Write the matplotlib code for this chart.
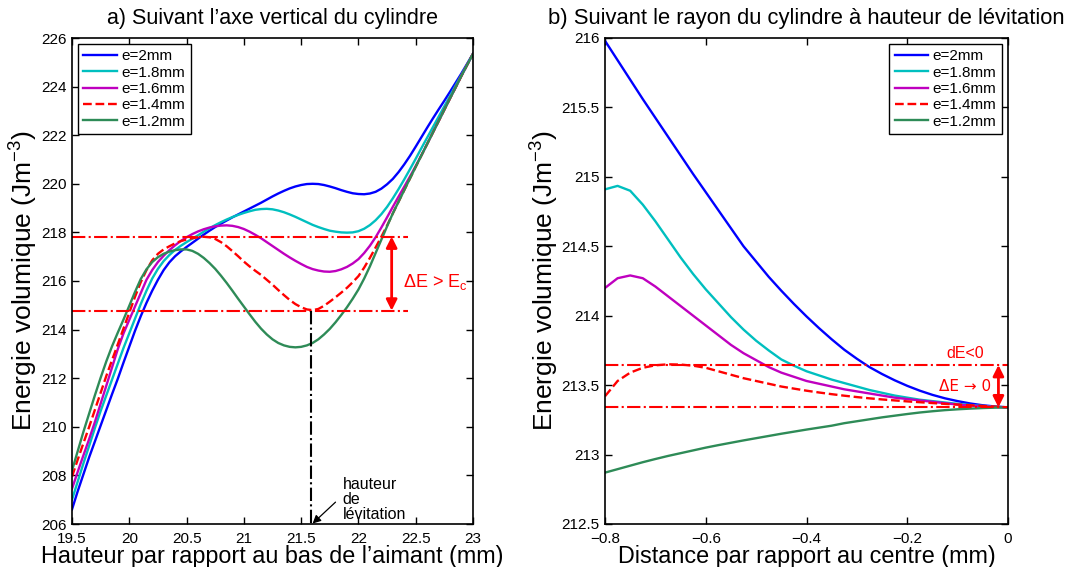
import matplotlib
matplotlib.use("Agg")
import matplotlib.pyplot as plt

plt.rcParams['font.family'] = ['Liberation Sans', 'DejaVu Sans']
plt.rcParams['mathtext.fontset'] = 'custom'
plt.rcParams['mathtext.rm'] = 'Liberation Sans'
plt.rcParams['mathtext.it'] = 'Liberation Sans:italic'
plt.rcParams['mathtext.bf'] = 'Liberation Sans:bold'

# ---------------- data: panel a (height, mm) ----------------
x_a = [19.50, 19.55, 19.60, 19.65, 19.70, 19.75, 19.80, 19.85, 19.90, 19.95,
       20.00, 20.05, 20.10, 20.15, 20.20, 20.25, 20.30, 20.35, 20.40, 20.45,
       20.50, 20.55, 20.60, 20.65, 20.70, 20.75, 20.80, 20.85, 20.90, 20.95,
       21.00, 21.05, 21.10, 21.15, 21.20, 21.25, 21.30, 21.35, 21.40, 21.45,
       21.50, 21.55, 21.60, 21.65, 21.70, 21.75, 21.80, 21.85, 21.90, 21.95,
       22.00, 22.05, 22.10, 22.15, 22.20, 22.25, 22.30, 22.35, 22.40, 22.45,
       22.50, 22.55, 22.60, 22.65, 22.70, 22.75, 22.80, 22.85, 22.90, 22.95,
       23.00]
a_e20 = [206.60, 207.35, 208.05, 208.75, 209.40, 210.05, 210.70, 211.35, 211.98, 212.65,
         213.30, 213.95, 214.55, 215.10, 215.60, 216.05, 216.45, 216.77, 217.02, 217.22,
         217.40, 217.57, 217.74, 217.91, 218.07, 218.22, 218.36, 218.49, 218.62, 218.74,
         218.86, 218.98, 219.10, 219.22, 219.35, 219.48, 219.60, 219.71, 219.81, 219.89,
         219.95, 219.99, 220.00, 219.99, 219.95, 219.89, 219.82, 219.74, 219.67, 219.61,
         219.58, 219.57, 219.60, 219.67, 219.80, 219.98, 220.20, 220.48, 220.80, 221.15,
         221.53, 221.92, 222.31, 222.69, 223.06, 223.42, 223.79, 224.17, 224.55, 224.95,
         225.35]
a_e18 = [207.00, 207.75, 208.50, 209.22, 209.95, 210.65, 211.30, 211.95, 212.60, 213.25,
         213.85, 214.45, 215.05, 215.60, 216.10, 216.50, 216.82, 217.07, 217.28, 217.45,
         217.60, 217.74, 217.88, 218.03, 218.17, 218.30, 218.42, 218.53, 218.63, 218.72,
         218.80, 218.87, 218.93, 218.96, 218.97, 218.95, 218.90, 218.83, 218.74, 218.64,
         218.53, 218.42, 218.31, 218.22, 218.14, 218.07, 218.03, 218.00, 217.99, 218.00,
         218.05, 218.15, 218.30, 218.50, 218.75, 219.05, 219.40, 219.78, 220.18, 220.60,
         221.03, 221.47, 221.90, 222.33, 222.76, 223.19, 223.62, 224.06, 224.49, 224.92,
         225.35]
a_e16 = [207.45, 208.15, 208.83, 209.50, 210.20, 210.95, 211.70, 212.45, 213.20, 213.85,
         214.40, 214.95, 215.50, 216.05, 216.45, 216.78, 217.04, 217.27, 217.47, 217.65,
         217.80, 217.93, 218.04, 218.13, 218.20, 218.25, 218.28, 218.29, 218.27, 218.22,
         218.14, 218.03, 217.90, 217.76, 217.60, 217.44, 217.28, 217.12, 216.97, 216.83,
         216.70, 216.58, 216.49, 216.43, 216.39, 216.38, 216.41, 216.48, 216.58, 216.72,
         216.90, 217.15, 217.45, 217.80, 218.20, 218.62, 219.05, 219.47, 219.88, 220.30,
         220.73, 221.18, 221.64, 222.11, 222.58, 223.05, 223.52, 223.98, 224.45, 224.90,
         225.35]
a_e14 = [207.95, 208.65, 209.33, 210.00, 210.70, 211.40, 212.10, 212.75, 213.40, 214.05,
         214.70, 215.35, 215.95, 216.45, 216.85, 217.12, 217.30, 217.43, 217.55, 217.64,
         217.71, 217.76, 217.80, 217.82, 217.80, 217.73, 217.60, 217.43, 217.23, 217.02,
         216.80, 216.60, 216.42, 216.25, 216.05, 215.85, 215.63, 215.42, 215.22, 215.05,
         214.92, 214.83, 214.80, 214.85, 214.98, 215.15, 215.33, 215.52, 215.72, 215.95,
         216.20, 216.55, 216.95, 217.38, 217.82, 218.28, 218.78, 219.26, 219.74, 220.22,
         220.70, 221.17, 221.64, 222.11, 222.58, 223.05, 223.52, 223.98, 224.45, 224.90,
         225.35]
a_e12 = [208.20, 209.00, 209.80, 210.55, 211.30, 212.02, 212.70, 213.32, 213.88, 214.42,
         214.98, 215.55, 216.08, 216.48, 216.78, 216.98, 217.12, 217.21, 217.27, 217.30,
         217.30, 217.24, 217.12, 216.95, 216.74, 216.50, 216.22, 215.92, 215.60, 215.27,
         214.95, 214.63, 214.32, 214.04, 213.80, 213.60, 213.45, 213.35, 213.29, 213.27,
         213.29, 213.35, 213.45, 213.60, 213.80, 214.03, 214.30, 214.60, 214.92, 215.27,
         215.65, 216.10, 216.60, 217.15, 217.70, 218.25, 218.78, 219.26, 219.74, 220.22,
         220.70, 221.17, 221.64, 222.11, 222.58, 223.05, 223.52, 223.98, 224.45, 224.90,
         225.35]

# ---------------- data: panel b (radius, mm) ----------------
x_b = [-0.800, -0.775, -0.750, -0.725, -0.700, -0.675, -0.650, -0.625, -0.600, -0.575,
       -0.550, -0.525, -0.500, -0.475, -0.450, -0.425, -0.400, -0.375, -0.350, -0.325,
       -0.300, -0.275, -0.250, -0.225, -0.200, -0.175, -0.150, -0.125, -0.100, -0.075,
       -0.050, -0.025, 0.000]
b_e20 = [215.98, 215.84, 215.70, 215.56, 215.425, 215.29, 215.155, 215.02, 214.89, 214.76,
         214.63, 214.50, 214.39, 214.28, 214.18, 214.085, 213.995, 213.91, 213.83, 213.755,
         213.69, 213.63, 213.58, 213.535, 213.495, 213.46, 213.43, 213.405, 213.385, 213.368,
         213.355, 213.346, 213.34]
b_e18 = [214.91, 214.935, 214.90, 214.80, 214.68, 214.55, 214.42, 214.30, 214.19, 214.09,
         213.99, 213.90, 213.82, 213.75, 213.685, 213.64, 213.60, 213.57, 213.54, 213.515,
         213.49, 213.465, 213.445, 213.425, 213.41, 213.395, 213.385, 213.375, 213.365, 213.357,
         213.35, 213.344, 213.34]
b_e16 = [214.20, 214.27, 214.29, 214.27, 214.21, 214.14, 214.07, 214.00, 213.93, 213.86,
         213.79, 213.73, 213.68, 213.63, 213.59, 213.56, 213.53, 213.51, 213.49, 213.47,
         213.455, 213.44, 213.425, 213.41, 213.40, 213.39, 213.38, 213.37, 213.36, 213.353,
         213.347, 213.343, 213.34]
b_e14 = [213.42, 213.53, 213.59, 213.625, 213.643, 213.65, 213.648, 213.64, 213.625, 213.60,
         213.575, 213.55, 213.53, 213.51, 213.49, 213.475, 213.46, 213.447, 213.435, 213.424,
         213.414, 213.405, 213.397, 213.39, 213.383, 213.377, 213.371, 213.365, 213.36, 213.355,
         213.35, 213.345, 213.34]
b_e12 = [212.87, 212.895, 212.92, 212.945, 212.968, 212.99, 213.01, 213.03, 213.05, 213.068,
         213.085, 213.102, 213.118, 213.134, 213.15, 213.165, 213.18, 213.194, 213.208, 213.226,
         213.24, 213.254, 213.268, 213.28, 213.292, 213.303, 213.312, 213.32, 213.326, 213.331,
         213.335, 213.338, 213.34]

labels = ['e=2mm', 'e=1.8mm', 'e=1.6mm', 'e=1.4mm', 'e=1.2mm']
colors = ['#0000ff', '#00bfbf', '#bf00bf', '#ff0000', '#2e8b57']
styles = ['-', '-', '-', '--', '-']

# annotation levels
a_levels = [217.83, 214.78]
a_lev_x = 21.59
b_levels = [213.645, 213.34]

fig = plt.figure(figsize=(10.76, 5.67), dpi=100)
ax1 = fig.add_axes([72/1076, 1-524/567, 401/1076, 486/567])
ax2 = fig.add_axes([605/1076, 1-524/567, 403/1076, 486/567])

for ys, c, ls, lab in zip([a_e20, a_e18, a_e16, a_e14, a_e12], colors, styles, labels):
    ax1.plot(x_a, ys, color=c, ls=ls, lw=1.7, label=lab)
for ys, c, ls, lab in zip([b_e20, b_e18, b_e16, b_e14, b_e12], colors, styles, labels):
    ax2.plot(x_b, ys, color=c, ls=ls, lw=1.7, label=lab)

# panel a annotations
for lv in a_levels:
    ax1.plot([19.5, 22.43], [lv, lv], color='red', ls='-.', lw=1.5)
ax1.plot([a_lev_x, a_lev_x], [a_levels[1], 206], color='black', ls='-.', lw=1.5)
ax1.annotate('', xy=(22.29, a_levels[0]), xytext=(22.29, a_levels[1]),
             arrowprops=dict(arrowstyle='<|-|>', color='red', lw=2, mutation_scale=16,
                             shrinkA=0, shrinkB=0))
ax1.text(22.39, 215.96, r'$\Delta$E > E$_\mathrm{c}$', color='red', fontsize=13,
         ha='left', va='center')
ax1.annotate('', xy=(a_lev_x + 0.01, 206.02), xytext=(21.8, 206.9),
             arrowprops=dict(arrowstyle='-|>', color='black', lw=0.9, mutation_scale=12,
                             shrinkA=0, shrinkB=0))
ax1.text(21.86, 207.0, 'hauteur\nde\nlévitation', fontsize=11.5, ha='left', va='center',
         linespacing=1.02)

# panel b annotations
for lv in b_levels:
    ax2.plot([-0.8, 0], [lv, lv], color='red', ls='-.', lw=1.5)
ax2.annotate('', xy=(-0.019, b_levels[0]), xytext=(-0.019, b_levels[1]),
             arrowprops=dict(arrowstyle='<|-|>', color='red', lw=2, mutation_scale=16,
                             shrinkA=0, shrinkB=0))
ax2.text(-0.085, 213.73, 'dE<0', color='red', fontsize=11.5, ha='center', va='center')
ax2.text(-0.085, 213.49, '\u0394E \u2192 0', color='red', fontsize=11,
         ha='center', va='center', family=['DejaVu Sans'])

ax1.set_xlim(19.5, 23)
ax1.set_ylim(206, 226)
ax1.set_xticks([19.5, 20, 20.5, 21, 21.5, 22, 22.5, 23])
ax1.set_xticklabels(['19.5', '20', '20.5', '21', '21.5', '22', '22.5', '23'])
ax1.set_yticks([206, 208, 210, 212, 214, 216, 218, 220, 222, 224, 226])

ax2.set_xlim(-0.8, 0)
ax2.set_ylim(212.5, 216)
ax2.set_xticks([-0.8, -0.6, -0.4, -0.2, 0])
ax2.set_xticklabels(['\u22120.8', '\u22120.6', '\u22120.4', '\u22120.2', '0'])
ax2.set_yticks([212.5, 213, 213.5, 214, 214.5, 215, 215.5, 216])
ax2.set_yticklabels(['212.5', '213', '213.5', '214', '214.5', '215', '215.5', '216'])

for ax in (ax1, ax2):
    ax.tick_params(direction='in', top=True, right=True, length=5, width=1, labelsize=11)
    ax.tick_params(axis='x', pad=6)
    ax.tick_params(axis='y', pad=4)
    for s in ax.spines.values():
        s.set_linewidth(1.2)
    ax.set_ylabel('Energie volumique (Jm$^{-3}$)', fontsize=19)

ax1.yaxis.set_label_coords((40 - 72) / 401, 0.5)
ax2.yaxis.set_label_coords((561 - 605) / 403, 0.5)

ax1.set_xlabel("Hauteur par rapport au bas de l\u2019aimant (mm)", fontsize=16.8)
ax2.set_xlabel("Distance par rapport au centre (mm)", fontsize=16.8)
ax1.xaxis.set_label_coords(0.5, (524 - 545) / 486)
ax2.xaxis.set_label_coords(0.5, (524 - 545) / 486)
ax1.set_title("a) Suivant l\u2019axe vertical du cylindre", fontsize=15.5, pad=10)
ax2.set_title("b) Suivant le rayon du cylindre \u00e0 hauteur de l\u00e9vitation", fontsize=15.8, pad=10)

leg_kw = dict(fontsize=11, frameon=True, fancybox=False, framealpha=1, edgecolor='black',
              handlelength=2.2, handletextpad=0.3, labelspacing=0.15, borderpad=0.35,
              borderaxespad=0.4)
l1 = ax1.legend(loc='upper left', **leg_kw)
l2 = ax2.legend(loc='upper right', **leg_kw)
for l in (l1, l2):
    l.get_frame().set_linewidth(1.0)

fig.savefig('out.png', dpi=100)
